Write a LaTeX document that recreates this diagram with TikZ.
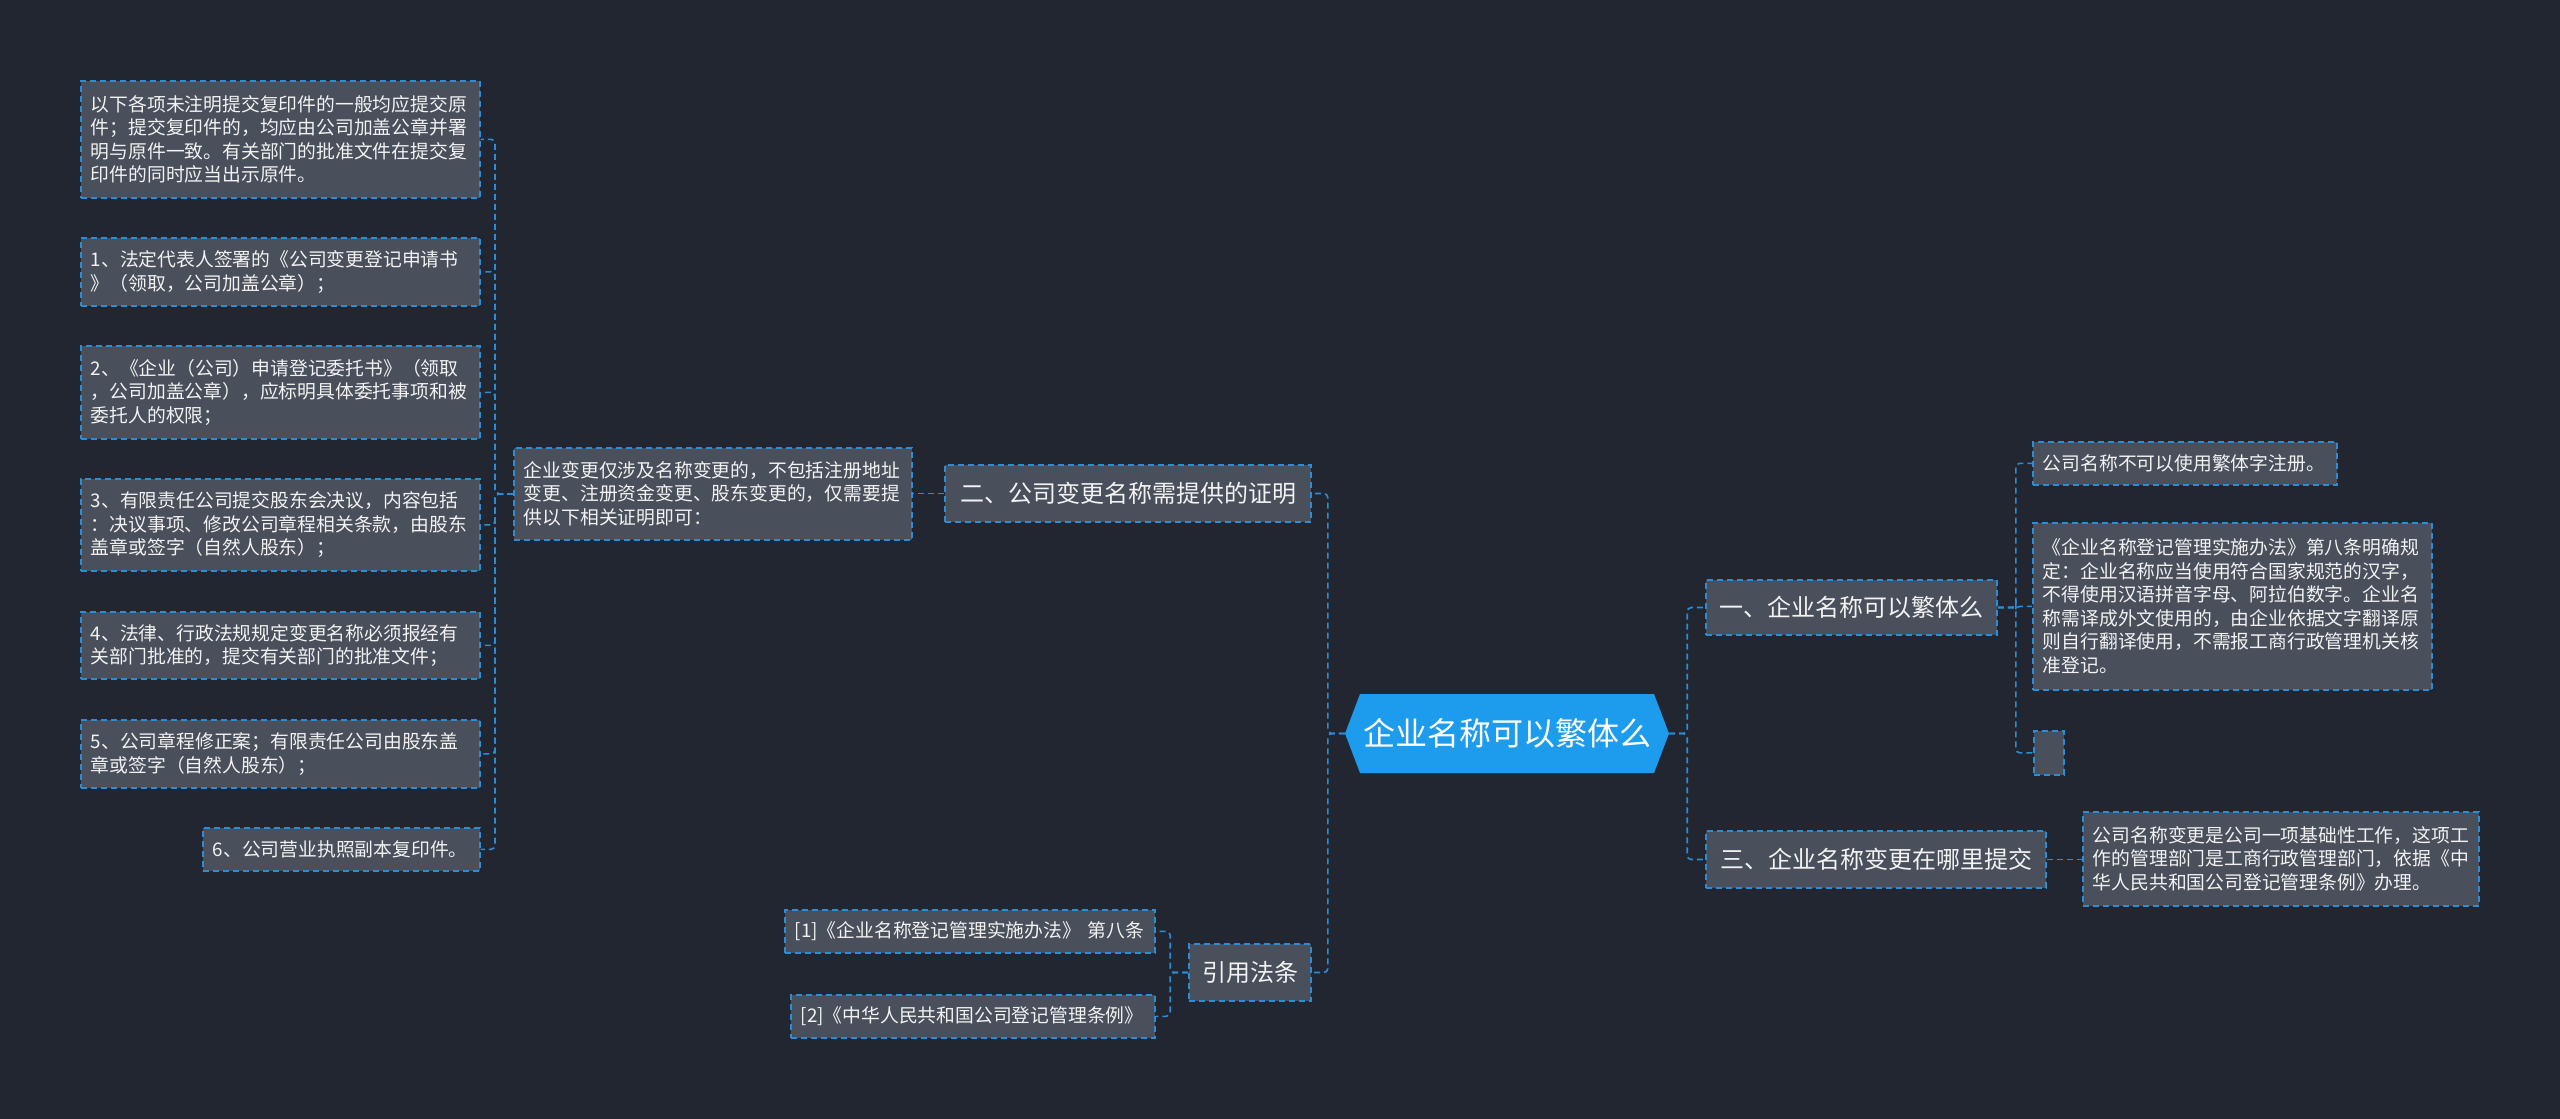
\documentclass[tikz,border=0pt]{standalone}
\usepackage{fontspec}
\setmainfont{Noto Sans CJK SC}
\definecolor{bg}{HTML}{222631}
\definecolor{nodegray}{HTML}{4A4F5C}
\definecolor{lineblue}{HTML}{2A8DD8}
\definecolor{centerblue}{HTML}{1D9BEC}
\definecolor{txt}{HTML}{F2F2F2}
\tikzset{
  box/.style={draw=lineblue, fill=nodegray, line width=1.6pt, dash pattern=on 6pt off 4pt, text=txt, inner sep=0pt},
  para/.style={box, font=\fontsize{18.8}{23.5}\selectfont, align=left, inner xsep=10pt, anchor=north west},
  head/.style={box, font=\fontsize{24}{28}\selectfont, anchor=center},
  conn/.style={draw=lineblue, line width=1.6pt, dash pattern=on 6pt off 4pt, rounded corners=4pt},
}
\begin{document}
\begin{tikzpicture}[x=1pt,y=-1pt]
\useasboundingbox[fill=bg] (0,0) rectangle (2560,1119);
% center hexagon
\fill[centerblue] (1345,733.5) -- (1360,694) -- (1654,694) -- (1669,733.5) -- (1654,773) -- (1360,773) -- cycle;
\node[text=white, font=\fontsize{32}{36}\selectfont, minimum width=324pt, minimum height=79pt, inner sep=0pt] (c) at (1507,733.5) {企业名称可以繁体么};
% branches
\node[head, minimum width=366pt, minimum height=57pt] (b2) at (1128,493.5) {二、公司变更名称需提供的证明};
\node[head, minimum width=291pt, minimum height=55pt] (b1) at (1851.5,607.5) {一、企业名称可以繁体么};
\node[head, minimum width=340pt, minimum height=57pt] (b3) at (1876,859.5) {三、企业名称变更在哪里提交};
\node[head, minimum width=122pt, minimum height=57pt] (yf) at (1250,972.5) {引用法条};
% mid
\node[para, text width=378pt, minimum height=92pt] (m) at (513,447) {企业变更仅涉及名称变更的，不包括注册地址\\变更、注册资金变更、股东变更的，仅需要提\\供以下相关证明即可：};
% leaves
\node[para, text width=379pt, minimum height=117pt] (l0) at (80,80) {以下各项未注明提交复印件的一般均应提交原\\件；提交复印件的，均应由公司加盖公章并署\\明与原件一致。有关部门的批准文件在提交复\\印件的同时应当出示原件。};
\node[para, text width=379pt, minimum height=68pt] (l1) at (80,237) {1、法定代表人签署的《公司变更登记申请书\\》（领取，公司加盖公章）；};
\node[para, text width=379pt, minimum height=93pt] (l2) at (80,345) {2、《企业（公司）申请登记委托书》（领取\\，公司加盖公章），应标明具体委托事项和被\\委托人的权限；};
\node[para, text width=379pt, minimum height=92pt] (l3) at (80,478) {3、有限责任公司提交股东会决议，内容包括\\：决议事项、修改公司章程相关条款，由股东\\盖章或签字（自然人股东）；};
\node[para, text width=379pt, minimum height=67pt] (l4) at (80,611) {4、法律、行政法规规定变更名称必须报经有\\关部门批准的，提交有关部门的批准文件；};
\node[para, text width=379pt, minimum height=68pt] (l5) at (80,719) {5、公司章程修正案；有限责任公司由股东盖\\章或签字（自然人股东）；};
\node[para, text width=257pt, minimum height=43pt] (l6) at (202,827) {6、公司营业执照副本复印件。};
% right children
\node[para, text width=284pt, minimum height=43pt] (ca) at (2032,441) {公司名称不可以使用繁体字注册。};
\node[para, text width=379pt, minimum height=167pt] (cb) at (2032,522) {《企业名称登记管理实施办法》第八条明确规\\定：企业名称应当使用符合国家规范的汉字，\\不得使用汉语拼音字母、阿拉伯数字。企业名\\称需译成外文使用的，由企业依据文字翻译原\\则自行翻译使用，不需报工商行政管理机关核\\准登记。};
\node[box, anchor=north west, minimum width=30pt, minimum height=44pt] (ce) at (2033,730) {};
\node[para, text width=376pt, minimum height=94pt] (cd) at (2082,811) {公司名称变更是公司一项基础性工作，这项工\\作的管理部门是工商行政管理部门，依据《中\\华人民共和国公司登记管理条例》办理。};
% refs
\node[para, text width=350pt, minimum height=43pt] (r1) at (784,909) {[1]《企业名称登记管理实施办法》 第八条};
\node[para, text width=344pt, minimum height=43pt] (r2) at (790,994) {[2]《中华人民共和国公司登记管理条例》};
% connectors
\draw[conn] (c.west) -- ++(-17,0) |- (b2.east);
\draw[conn] (c.west) -- ++(-17,0) |- (yf.east);
\draw[conn] (c.east) -- ++(18,0) |- (b1.west);
\draw[conn] (c.east) -- ++(18,0) |- (b3.west);
\draw[conn] (b2.west) -- (b2.west -| m.east);
\foreach \l in {l0,l1,l2,l3,l4,l5,l6}{
  \draw[conn] (m.west) -- ++(-18,0) |- (\l.east);
}
\foreach \k in {ca,cb,ce}{
  \draw[conn] (b1.east) -- ++(18,0) |- (\k.west);
}
\draw[conn] (b3.east) -- (b3.east -| cd.west);
\draw[conn] (yf.west) -- ++(-18,0) |- (r1.east);
\draw[conn] (yf.west) -- ++(-18,0) |- (r2.east);
\end{tikzpicture}
\end{document}
